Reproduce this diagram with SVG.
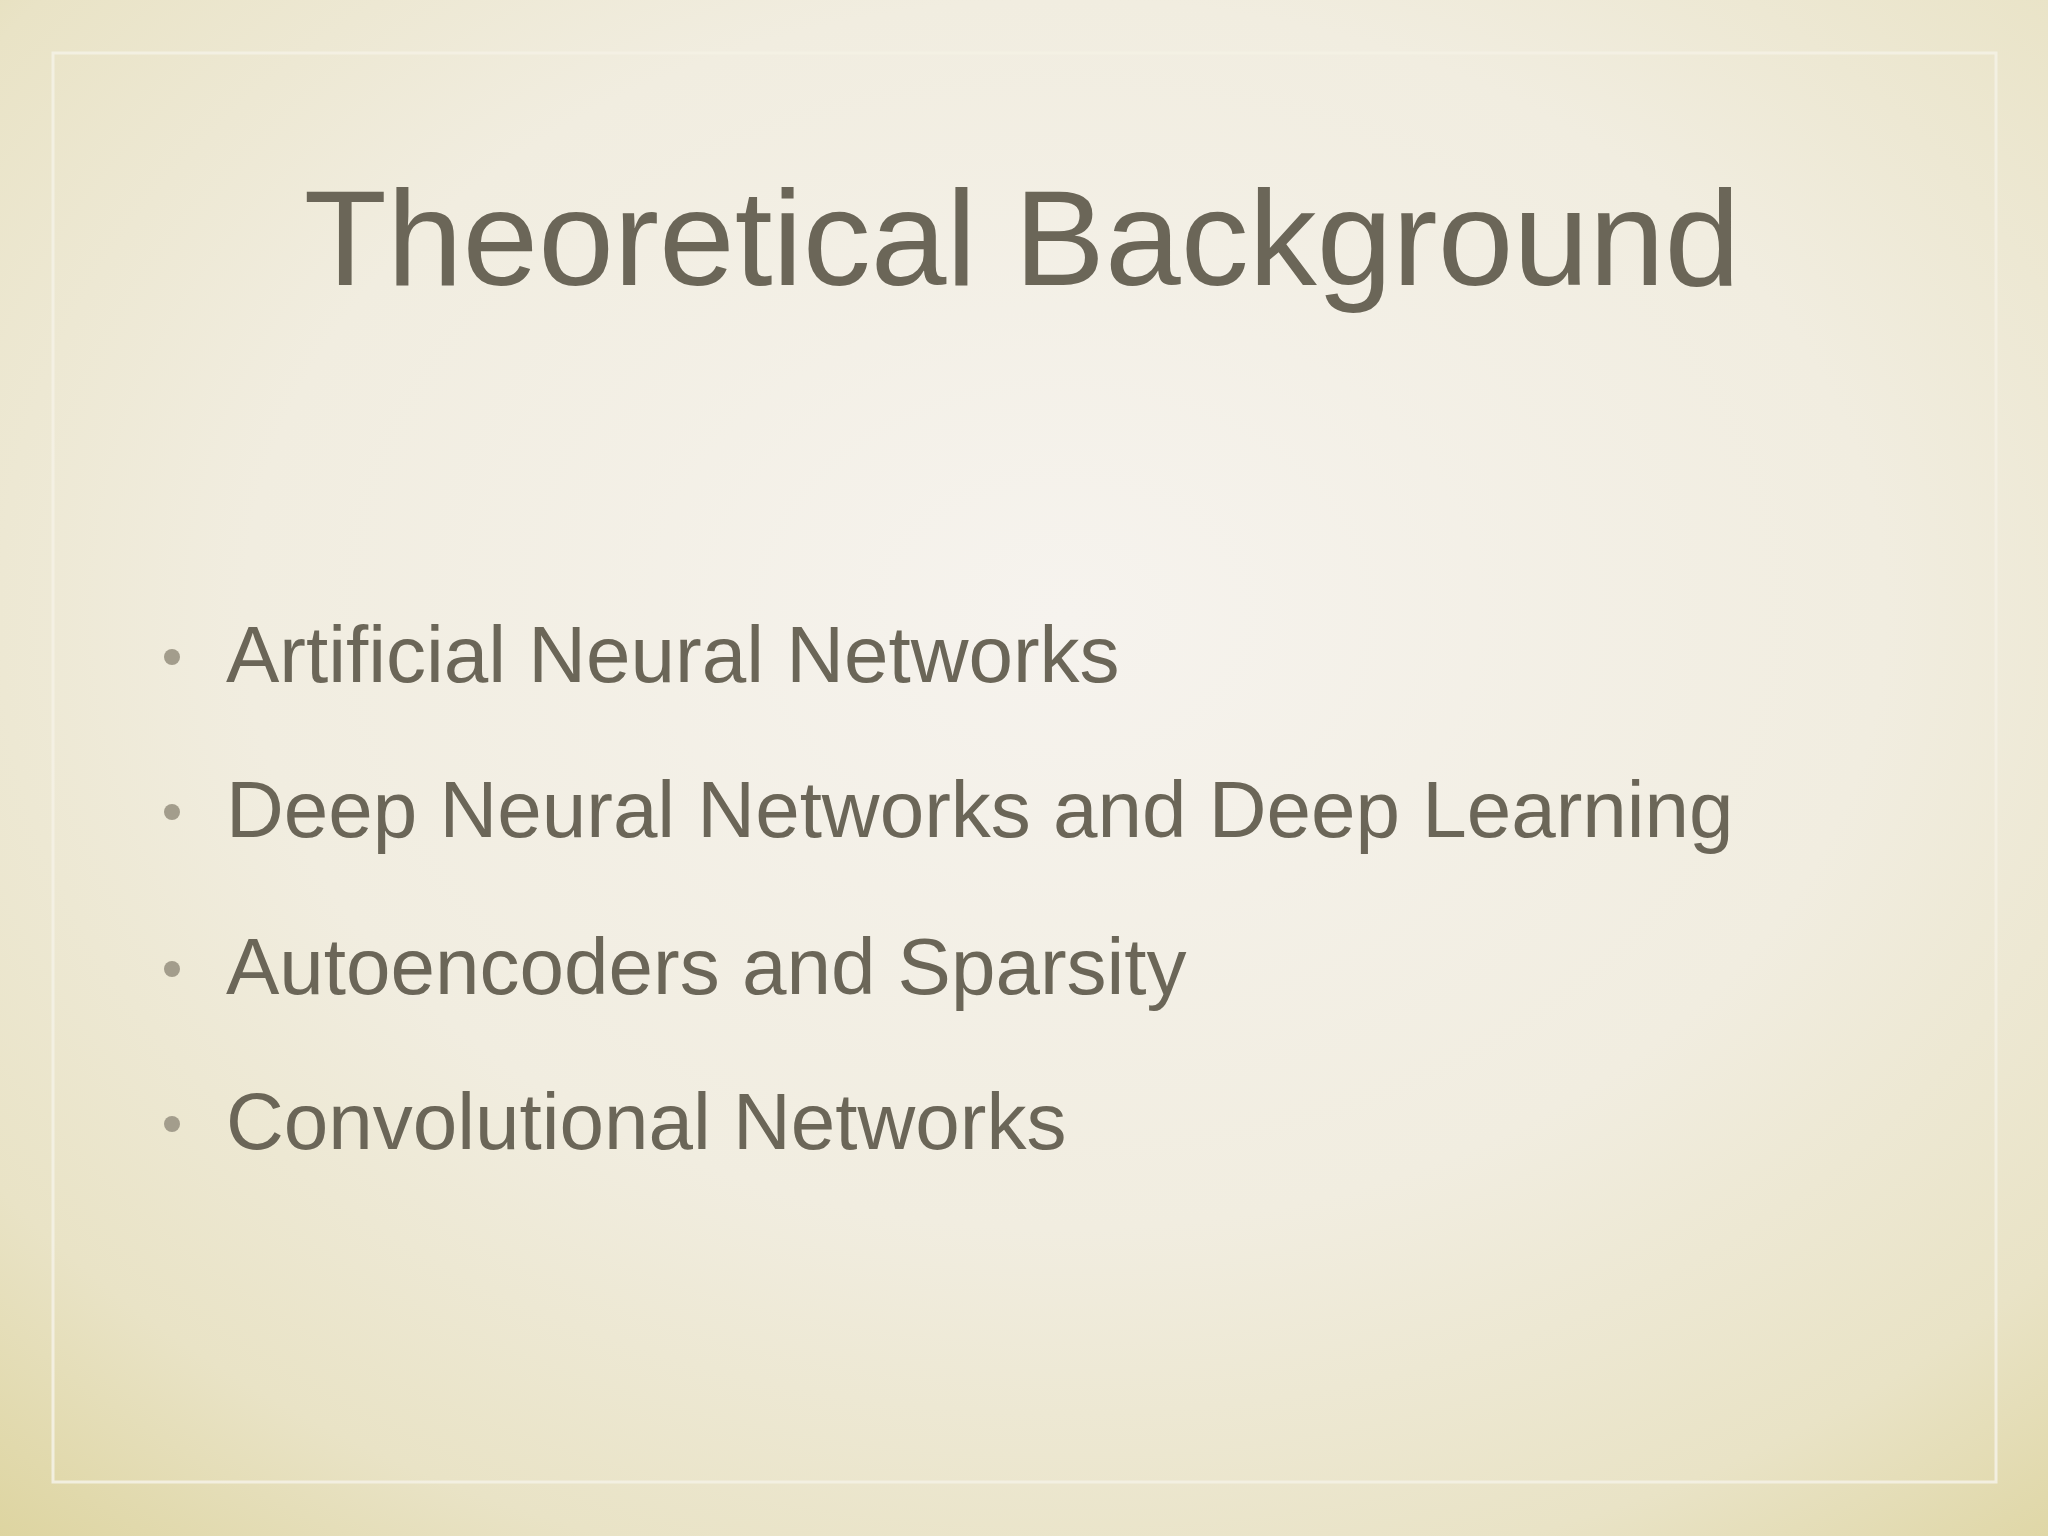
<svg xmlns="http://www.w3.org/2000/svg" width="2048" height="1536" viewBox="0 0 2048 1536">
<defs>
<radialGradient id="bg" cx="52%" cy="40%" r="80%">
<stop offset="0" stop-color="#f6f3ee"/>
<stop offset="0.5" stop-color="#f1ede0"/>
<stop offset="0.8" stop-color="#e9e3c6"/>
<stop offset="1" stop-color="#ddd49f"/>
</radialGradient>
<style>
.t{font-family:"Liberation Sans",Arial,sans-serif;fill:#6b6658}
.b{font-size:80px}
.d{fill:#a39d8c}
</style>
</defs>
<rect width="2048" height="1536" fill="url(#bg)"/>
<rect x="53" y="53" width="1943" height="1429" fill="none" stroke="#f4f1e4" stroke-width="3" opacity="0.9"/>
<g id="title"><text class="t" x="1022" y="285" font-size="136" text-anchor="middle">Theoretical Background</text></g>
<g id="bullets">
<circle class="d" cx="172" cy="657" r="8"/><text class="t b" x="226" y="682">Artificial Neural Networks</text>
<circle class="d" cx="172" cy="812" r="8"/><text class="t b" x="226" y="837">Deep Neural Networks and Deep Learning</text>
<circle class="d" cx="172" cy="969" r="8"/><text class="t b" x="226" y="994">Autoencoders and Sparsity</text>
<circle class="d" cx="172" cy="1124" r="8"/><text class="t b" x="226" y="1149">Convolutional Networks</text>
</g>
</svg>
